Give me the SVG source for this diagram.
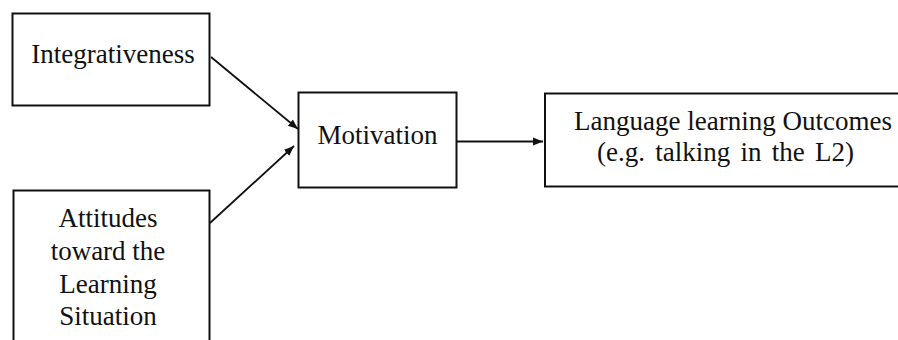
<svg xmlns="http://www.w3.org/2000/svg" width="898" height="340" viewBox="0 0 898 340">
<style>
.box{fill:#fff;stroke:#111;stroke-width:2}
.t{font-family:"Liberation Serif","Times New Roman",serif;font-size:27px;fill:#111}
.c{stroke:#111;stroke-width:1.8;fill:none}
</style>
<defs>
<marker id="ah" viewBox="0 0 10 10" refX="10" refY="5" markerWidth="10" markerHeight="10" markerUnits="userSpaceOnUse" orient="auto">
<path d="M0,1 L10,5 L0,9 Z" fill="#111"/>
</marker>
</defs>
<rect width="898" height="340" fill="#fff"/>
<g id="connectors">
<line class="c" x1="211" y1="57" x2="298" y2="129" marker-end="url(#ah)"/>
<line class="c" x1="210" y1="223" x2="294" y2="146" marker-end="url(#ah)"/>
<line class="c" x1="457" y1="141.5" x2="543" y2="141.5" marker-end="url(#ah)"/>
</g>
<g id="integrativeness">
<rect class="box" x="12.5" y="13.5" width="197" height="92"/>
<text class="t" x="113" y="63" text-anchor="middle">Integrativeness</text>
</g>
<g id="attitudes">
<rect class="box" x="13.5" y="190.5" width="196" height="160"/>
<text class="t" x="108" y="227" text-anchor="middle">Attitudes</text>
<text class="t" x="108" y="260" text-anchor="middle">toward the</text>
<text class="t" x="108" y="292.5" text-anchor="middle">Learning</text>
<text class="t" x="108" y="325" text-anchor="middle">Situation</text>
</g>
<g id="motivation">
<rect class="box" x="298.5" y="92.5" width="158" height="95"/>
<text class="t" x="377.5" y="144" text-anchor="middle">Motivation</text>
</g>
<g id="outcomes">
<rect class="box" x="545" y="93.5" width="360" height="93"/>
<text class="t" x="733" y="130" text-anchor="middle">Language learning Outcomes</text>
<text class="t" x="725.5" y="160.5" text-anchor="middle" word-spacing="3.5">(e.g. talking in the L2)</text>
</g>
</svg>
